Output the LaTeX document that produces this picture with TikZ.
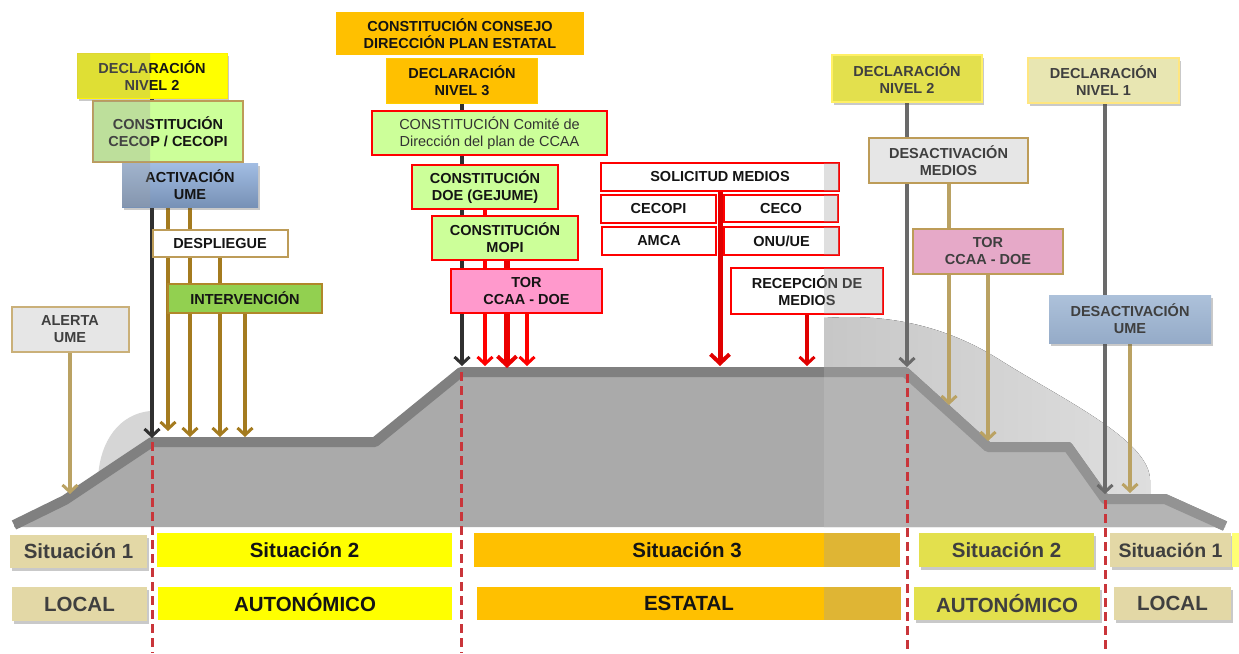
\documentclass[tikz,border=0pt]{standalone}
\usepackage{fontspec}
\setmainfont{Liberation Sans}
\usetikzlibrary{arrows.meta,shadows}
\definecolor{txt}{HTML}{141414}
\definecolor{dtxt}{HTML}{3F3F3F}
\definecolor{yel}{HTML}{FFFF00}
\definecolor{org}{HTML}{FFC000}
\definecolor{lgreen}{HTML}{CCFF99}
\definecolor{gold}{HTML}{BD9C58}
\definecolor{brn}{HTML}{A47B1F}
\definecolor{tanc}{HTML}{BAA263}
\definecolor{pinkc}{HTML}{FF99CC}
\definecolor{rd}{HTML}{FF0000}
\definecolor{beige}{HTML}{E3D8A6}
\definecolor{myel}{HTML}{E3E04D}
\definecolor{pyel}{HTML}{E8E6B2}
\definecolor{lgray}{HTML}{E6E6E6}
\definecolor{mpink}{HTML}{E6A9C8}
\definecolor{dshc}{HTML}{C9353A}
\definecolor{prof}{HTML}{AAAAAA}
\definecolor{profl}{HTML}{808080}
\definecolor{profR}{HTML}{B4B4B4}
\definecolor{proflR}{HTML}{939393}
\definecolor{bumpc}{HTML}{D6D6D6}
\definecolor{ovlc}{HTML}{A0A0A0}
\definecolor{blk}{HTML}{303030}
\definecolor{grl}{HTML}{6A6A6A}
\definecolor{bluT}{HTML}{A2BDE3}
\definecolor{bluB}{HTML}{7791B6}
\definecolor{bgT}{HTML}{ADC1DA}
\definecolor{bgB}{HTML}{95ABC8}
\definecolor{intg}{HTML}{92D050}
\definecolor{intb}{HTML}{B0872A}
\pgfdeclarelayer{bg}\pgfdeclarelayer{ln}\pgfsetlayers{bg,ln,main}
\begin{document}
\begin{tikzpicture}[x=1pt,y=-1pt,
  every node/.style={inner sep=0pt,outer sep=0pt,align=center,text=txt,font=\bfseries\fontsize{14.5}{17}\selectfont},
  shd/.style={drop shadow={shadow xshift=1.5pt,shadow yshift=-3pt,opacity=.3,fill=black!70}},
  redbox/.style={draw=rd,line width=1.8pt},
  ovl/.style={fill=ovlc,opacity=.33},
  barb/.style={-{Straight Barb[length=7pt,width=15pt,line width=3pt]}},
  blackarr/.style={barb,draw=blk,line width=4pt},
  brownarr/.style={barb,draw=brn,line width=4pt},
  tanarr/.style={barb,draw=tanc,line width=3.5pt},
  grayarr/.style={barb,draw=grl,line width=4pt},
  redarr/.style={barb,draw=rd,line width=4pt},
  redbig/.style={-{Straight Barb[length=9pt,width=19pt,line width=4pt]},draw=rd!92!black,line width=5.5pt},
  dashv/.style={draw=dshc,line width=3pt,dash pattern=on 9pt off 5pt},
  bartxt/.style={font=\bfseries\fontsize{20.5}{24}\selectfont}
]
\useasboundingbox (0,0) rectangle (1239,653);

% ---------- left boxes ----------
\node[fill=yel,draw=yel!90!orange,line width=.8pt,shd,minimum width=150pt,minimum height=45pt] (d2L) at (152,75.5) {DECLARACIÓN\\NIVEL 2};
\node[fill=lgreen,draw=gold,line width=2pt,minimum width=150pt,minimum height=61pt] (cecop) at (168,131.5) {CONSTITUCIÓN\\CECOP / CECOPI};
\node[top color=bluT,bottom color=bluB,shd,minimum width=136pt,minimum height=44pt] (act) at (190,185) {ACTIVACIÓN\\UME};
\node[fill=white,draw=gold,line width=2pt,minimum width=135pt,minimum height=27pt] (desp) at (220,243.5) {DESPLIEGUE};
\node[fill=intg,draw=intb,line width=2pt,minimum width=154pt,minimum height=29pt] (interv) at (245,298.5) {INTERVENCIÓN};
\node[fill=lgray,draw=gold!80!white,line width=2pt,text=dtxt,minimum width=117pt,minimum height=45pt] (alerta) at (70,329.5) {ALERTA\\UME};
\begin{scope}
\clip (0,0) rectangle (150,653);
\fill[ovl] (d2L.north west) rectangle (d2L.south east);
\fill[ovl] (cecop.north west) rectangle (cecop.south east);
\fill[ovl] (act.north west) rectangle (act.south east);
\end{scope}

% ---------- middle boxes ----------
\node[fill=org,minimum width=248pt,minimum height=43pt] (consejo) at (460,33.5) {CONSTITUCIÓN CONSEJO\\DIRECCIÓN PLAN ESTATAL};
\node[fill=org,draw=org!80!yellow,line width=.8pt,minimum width=151pt,minimum height=45pt] (d3) at (462,80.5) {DECLARACIÓN\\NIVEL 3};
\node[fill=lgreen,redbox,text=black!80,font=\fontsize{14.5}{17}\selectfont,minimum width=235pt,minimum height=44pt] (comite) at (489.5,133) {CONSTITUCIÓN Comité de\\Dirección del plan de CCAA};
\node[fill=lgreen,redbox,minimum width=146pt,minimum height=44pt] (doe) at (485,187) {CONSTITUCIÓN\\DOE (GEJUME)};
\node[fill=lgreen,redbox,minimum width=146pt,minimum height=44pt] (mopi) at (505,238) {CONSTITUCIÓN\\MOPI};
\node[fill=pinkc,redbox,minimum width=151pt,minimum height=44pt] (tor) at (526.5,291) {TOR\\CCAA - DOE};

\node[fill=white,redbox,minimum width=238pt,minimum height=28pt] (solic) at (720,177) {SOLICITUD MEDIOS};
\node[fill=white,redbox,minimum width=115pt,minimum height=28pt] (cecopi) at (658.5,209) {CECOPI};
\node[fill=white,redbox,minimum width=114pt,minimum height=27pt] (ceco) at (781,208.5) {CECO};
\node[fill=white,redbox,minimum width=114pt,minimum height=28pt] (amca) at (659,241) {AMCA};
\node[fill=white,redbox,minimum width=115pt,minimum height=28pt] (onu) at (781.5,241) {ONU/UE};
\node[fill=white,redbox,minimum width=152pt,minimum height=46pt] (recep) at (807,291) {RECEPCIÓN DE\\MEDIOS};

% ---------- right boxes ----------
\node[fill=myel,draw=yel!80!orange!60!white,line width=1.5pt,shd,text=dtxt,minimum width=150pt,minimum height=47pt] (d2R) at (907,78.5) {DECLARACIÓN\\NIVEL 2};
\node[fill=pyel,draw=yel!60!orange!50!white,line width=1.5pt,shd,text=dtxt,minimum width=151pt,minimum height=45pt] (d1) at (1103.5,80.5) {DECLARACIÓN\\NIVEL 1};
\node[fill=lgray,draw=gold,line width=2pt,text=dtxt,minimum width=159pt,minimum height=45pt] (dmed) at (948.5,160.5) {DESACTIVACIÓN\\MEDIOS};
\node[fill=mpink,draw=gold,line width=2pt,text=dtxt,minimum width=150pt,minimum height=45pt] (torR) at (988,251.5) {TOR\\CCAA - DOE};
\node[top color=bgT,bottom color=bgB,shd,text=dtxt,minimum width=162pt,minimum height=48pt] (dume) at (1130,319) {DESACTIVACIÓN\\UME};

% ---------- bottom bars ----------
\node[bartxt,fill=beige,shd,text=dtxt,minimum width=137pt,minimum height=33pt] (s1L) at (78.5,551.5) {Situación 1};
\node[bartxt,fill=yel,minimum width=295pt,minimum height=34pt] (s2L) at (304.5,550) {Situación 2};
\node[bartxt,fill=org,minimum width=426pt,minimum height=34pt] (s3) at (687,550) {Situación 3};
\node[bartxt,fill=myel,shd,text=dtxt,minimum width=175pt,minimum height=34pt] (s2R) at (1006.5,550) {Situación 2};
\node[bartxt,font=\bfseries\fontsize{19.5}{24}\selectfont,fill=beige,shd,text=dtxt,minimum width=121pt,minimum height=34pt] (s1R) at (1170.5,550) {Situación 1};
\fill[yel!55!white] (1232,533) rectangle (1239,567);
\node[bartxt,fill=beige,shd,text=dtxt,minimum width=135pt,minimum height=34pt] (locL) at (79.5,604) {LOCAL};
\node[bartxt,fill=yel,minimum width=294pt,minimum height=33pt] (autL) at (305,603) {AUTONÓMICO};
\node[bartxt,fill=org,minimum width=424pt,minimum height=33pt] (est) at (689,603) {ESTATAL};
\node[bartxt,fill=myel,shd,text=dtxt,minimum width=186pt,minimum height=33pt] (autR) at (1007,603.5) {AUTONÓMICO};
\node[bartxt,fill=beige,shd,text=dtxt,minimum width=117pt,minimum height=33pt] (locR) at (1172.5,603.5) {LOCAL};

\begin{scope}
\clip (824,0) rectangle (1239,653);
\foreach \n in {solic,ceco,onu,recep,s3,est}
  \fill[ovl] (\n.north west) rectangle (\n.south east);
\end{scope}

% ---------- arrow end points ----------
\coordinate (tk1) at (152,438);
\coordinate (tb1) at (168,431);
\coordinate (tb2) at (190,437);
\coordinate (tb3) at (220,437);
\coordinate (tb4) at (245,437);
\coordinate (ta) at (70,494);
\coordinate (tk3) at (462,366);
\coordinate (tr1) at (485,366);
\coordinate (tr2) at (507,368);
\coordinate (tr3) at (527,366);
\coordinate (ts) at (720,366);
\coordinate (trc) at (807,366);
\coordinate (tg1) at (907,367);
\coordinate (tt1) at (949,405);
\coordinate (tt2) at (988,441);
\coordinate (tg2) at (1105,494);
\coordinate (tt3) at (1130,493);

\begin{pgfonlayer}{ln}
\draw[blackarr] (tk1 |- d2L.south) -- (tk1);
\draw[brownarr] (tb1 |- cecop.south) -- (tb1);
\draw[brownarr] (tb2 |- act.south) -- (tb2);
\draw[brownarr] (tb3 |- desp.south) -- (tb3);
\draw[brownarr] (tb4 |- interv.south) -- (tb4);
\draw[tanarr] (ta |- alerta.south) -- (ta);
\draw[blackarr] (tk3 |- d3.south) -- (tk3);
\draw[redarr] (tr1 |- doe.south) -- (tr1);
\draw[redbig] (tr2 |- mopi.south) -- (tr2);
\draw[redarr] (tr3 |- tor.south) -- (tr3);
\draw[redbig,draw=rd!88!black,line width=5pt] (ts |- solic.south) -- (ts);
\draw[redarr,draw=rd!88!black] (trc |- recep.south) -- (trc);
\draw[grayarr] (tg1 |- d2R.south) -- (tg1);
\draw[tanarr] (tt1 |- dmed.south) -- (tt1);
\draw[tanarr] (tt2 |- torR.south) -- (tt2);
\draw[grayarr] (tg2 |- d1.south) -- (tg2);
\draw[tanarr] (tt3 |- dume.south) -- (tt3);
\end{pgfonlayer}

% ---------- profile ----------
\begin{pgfonlayer}{bg}
\fill[bumpc] (98,478) .. controls (100,440) and (120,414) .. (150,411) -- (152,442) -- cycle;
\fill[left color=black!22,right color=black!13] (824,318) .. controls (880,314) and (940,322) .. (1000,360)
  .. controls (1060,398) and (1150,440) .. (1150,480) -- (1150,500) -- (824,500) -- cycle;
\fill[prof] (14,527) -- (14,525) -- (65,500) -- (152,442) -- (375,442) -- (461,372) -- (905,372) -- (988,447)
  -- (1068,447) -- (1105,499) -- (1165,499) -- (1225,526) -- (1225,527) -- cycle;
\draw[profl,line width=10pt,line join=round] (14,525) -- (65,500) -- (152,442) -- (375,442) -- (461,372)
  -- (905,372) -- (988,447) -- (1068,447) -- (1105,499) -- (1165,499) -- (1225,526);
\begin{scope}
\clip (824,0) rectangle (1239,653);
\fill[profR] (824,527) -- (824,372) -- (905,372) -- (988,447)
  -- (1068,447) -- (1105,499) -- (1165,499) -- (1225,526) -- (1225,527) -- cycle;
\draw[proflR,line width=10pt,line join=round] (800,372)
  -- (905,372) -- (988,447) -- (1068,447) -- (1105,499) -- (1165,499) -- (1225,526);
\end{scope}
\draw[dashv] (152,442) -- (152,653);
\draw[dashv] (461,372) -- (461,653);
\draw[dashv] (907,374) -- (907,653);
\draw[dashv] (1105,500) -- (1105,653);
\end{pgfonlayer}
\end{tikzpicture}
\end{document}
